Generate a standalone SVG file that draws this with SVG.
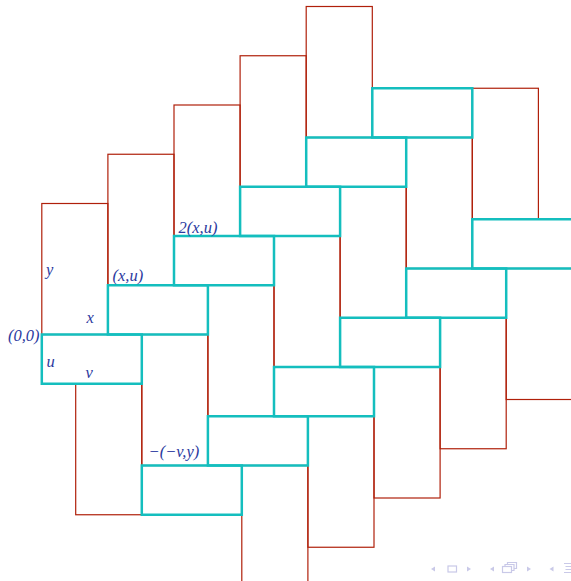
<svg xmlns="http://www.w3.org/2000/svg" width="571" height="581" viewBox="0 0 571 581">
<style>
.r{fill:none;stroke:#b0200a;stroke-width:1.2}
.c{fill:none;stroke:#14bebe;stroke-width:2.5}
.t{font-family:"Liberation Serif","Times New Roman",serif;font-style:italic;font-size:16.5px;fill:#2b3aa0}
.n{fill:#c9c9e8;stroke:none}
.nl{fill:none;stroke:#c9c9e8;stroke-width:1.2}
</style>
<rect width="571" height="581" fill="#ffffff"/>
<g id="red-tiles">
<g id="r0_0"><rect class="r" x="41.8" y="203.5" width="66.1" height="131"/></g>
<g id="r1_0"><rect class="r" x="107.9" y="154.25" width="66.1" height="131"/></g>
<g id="r2_0"><rect class="r" x="174" y="105" width="66.1" height="131"/></g>
<g id="r3_0"><rect class="r" x="240.1" y="55.75" width="66.1" height="131"/></g>
<g id="r4_0"><rect class="r" x="306.2" y="6.5" width="66.1" height="131"/></g>
<g id="rm1_1"><rect class="r" x="75.7" y="383.75" width="66.1" height="131"/></g>
<g id="r0_1"><rect class="r" x="141.8" y="334.5" width="66.1" height="131"/></g>
<g id="r1_1"><rect class="r" x="207.9" y="285.25" width="66.1" height="131"/></g>
<g id="r2_1"><rect class="r" x="274" y="236" width="66.1" height="131"/></g>
<g id="r3_1"><rect class="r" x="340.1" y="186.75" width="66.1" height="131"/></g>
<g id="r4_1"><rect class="r" x="406.2" y="137.5" width="66.1" height="131"/></g>
<g id="r5_1"><rect class="r" x="472.3" y="88.25" width="66.1" height="131"/></g>
<g id="r0_2"><rect class="r" x="241.8" y="465.5" width="66.1" height="131"/></g>
<g id="r1_2"><rect class="r" x="307.9" y="416.25" width="66.1" height="131"/></g>
<g id="r2_2"><rect class="r" x="374" y="367" width="66.1" height="131"/></g>
<g id="r3_2"><rect class="r" x="440.1" y="317.75" width="66.1" height="131"/></g>
<g id="r4_2"><rect class="r" x="506.2" y="268.5" width="66.1" height="131"/></g>
</g>
<g id="cyan-tiles">
<g id="c0_0"><rect class="c" x="41.8" y="334.5" width="100" height="49.25"/></g>
<g id="c1_0"><rect class="c" x="107.9" y="285.25" width="100" height="49.25"/></g>
<g id="c2_0"><rect class="c" x="174" y="236" width="100" height="49.25"/></g>
<g id="c3_0"><rect class="c" x="240.1" y="186.75" width="100" height="49.25"/></g>
<g id="c4_0"><rect class="c" x="306.2" y="137.5" width="100" height="49.25"/></g>
<g id="c5_0"><rect class="c" x="372.3" y="88.25" width="100" height="49.25"/></g>
<g id="c0_1"><rect class="c" x="141.8" y="465.5" width="100" height="49.25"/></g>
<g id="c1_1"><rect class="c" x="207.9" y="416.25" width="100" height="49.25"/></g>
<g id="c2_1"><rect class="c" x="274" y="367" width="100" height="49.25"/></g>
<g id="c3_1"><rect class="c" x="340.1" y="317.75" width="100" height="49.25"/></g>
<g id="c4_1"><rect class="c" x="406.2" y="268.5" width="100" height="49.25"/></g>
<g id="c5_1"><rect class="c" x="472.3" y="219.25" width="100" height="49.25"/></g>
</g>
<g id="labels">
<text class="t" x="8" y="340.5">(0,0)</text>
<text class="t" x="46" y="275">y</text>
<text class="t" x="86.5" y="323">x</text>
<text class="t" x="46.5" y="367">u</text>
<text class="t" x="85.5" y="377.5">v</text>
<text class="t" x="112.5" y="280.5">(x,u)</text>
<text class="t" x="178.5" y="232.5">2(x,u)</text>
<text class="t" x="148.5" y="457">−(−v,y)</text>
</g>
<g id="nav">
<polygon class="n" points="435,566.5 435,571.5 431,569"/>
<rect class="nl" x="448" y="566" width="8.5" height="6"/>
<polygon class="n" points="467,566.5 467,571.5 471,569"/>
<polygon class="n" points="494,566.5 494,571.5 490,569"/>
<rect class="nl" x="502.5" y="566.5" width="9" height="6"/>
<polyline class="nl" points="505,566.5 505,564.5 514,564.5 514,570.5 511.5,570.5"/>
<polyline class="nl" points="507.5,564.5 507.5,562.5 516.5,562.5 516.5,568.5 514,568.5"/>
<polygon class="n" points="527,566.5 527,571.5 531,569"/>
<polygon class="n" points="553.5,566.5 553.5,571.5 549.5,569"/>
<path class="nl" d="M564 563.5h7M565.5 566.5h5.5M565.5 569.5h5.5M564 572.5h7"/>
</g>
</svg>
